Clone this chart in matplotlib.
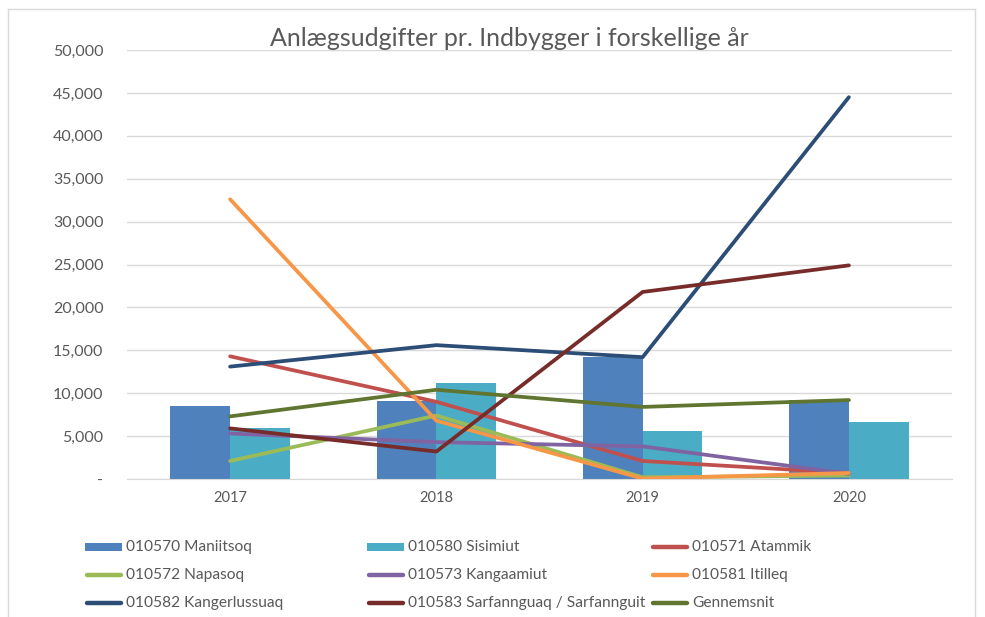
import matplotlib
matplotlib.use("Agg")
import matplotlib.pyplot as plt
from matplotlib.lines import Line2D
from matplotlib.patches import Rectangle
import numpy as np

years = ["2017", "2018", "2019", "2020"]

maniitsoq = [8500, 9100, 14200, 9200]
sisimiut = [5900, 11200, 5600, 6600]

atammik = [14300, 9000, 2100, 700]
napasoq = [2100, 7400, 200, 400]
kangaamiut = [5300, 4300, 3800, 600]
itilleq = [32600, 6800, 50, 700]
kangerlussuaq = [13100, 15600, 14200, 44500]
sarfannguaq = [5900, 3200, 21800, 24900]
gennemsnit = [7300, 10400, 8400, 9200]

title = "Anlægsudgifter pr. Indbygger i forskellige år"
yticks = [0, 5000, 10000, 15000, 20000, 25000, 30000, 35000, 40000, 45000, 50000]

bar_series = [("010570 Maniitsoq", maniitsoq, "#4F81BD"),
              ("010580 Sisimiut", sisimiut, "#4BACC6")]
line_series = [("010571 Atammik", atammik, "#C0504D"),
               ("010572 Napasoq", napasoq, "#9BBB59"),
               ("010573 Kangaamiut", kangaamiut, "#8064A2"),
               ("010581 Itilleq", itilleq, "#F79646"),
               ("010582 Kangerlussuaq", kangerlussuaq, "#2C4D75"),
               ("010583 Sarfannguaq / Sarfannguit", sarfannguaq, "#772C2A"),
               ("Gennemsnit", gennemsnit, "#5F7530")]

plt.rcParams['font.family'] = ['Lato', 'DejaVu Sans']
W, H = 985, 617
fig = plt.figure(figsize=(W/100, H/100), dpi=100)
fig.patch.set_facecolor("white")

def fx(px):
    return px / W

def fy(py):
    return 1 - py / H

# outer frame
frame_c = "#D9D9D9"
fig.add_artist(Line2D([fx(8), fx(8)], [0, fy(9)], transform=fig.transFigure, color=frame_c, lw=1))
fig.add_artist(Line2D([fx(8), fx(975)], [fy(9), fy(9)], transform=fig.transFigure, color=frame_c, lw=1))
fig.add_artist(Line2D([fx(975), fx(975)], [0, fy(9)], transform=fig.transFigure, color=frame_c, lw=1))

ax = fig.add_axes([fx(127), fy(479), fx(952 - 127), (479 - 50) / H])
x = np.arange(len(years))
w = 0.29
ax.bar(x - w/2, maniitsoq, width=w, color=bar_series[0][2], zorder=2)
ax.bar(x + w/2, sisimiut, width=w, color=bar_series[1][2], zorder=2)

for name, vals, c in line_series:
    ax.plot(x, vals, color=c, lw=2.7, solid_capstyle="round", zorder=3)

ax.set_xlim(-0.5, 3.5)
ax.set_ylim(0, 50000)
ax.set_yticks(yticks)
ax.set_yticklabels(["-"] + [f"{v:,}" for v in yticks[1:]])
ax.set_xticks(x)
ax.set_xticklabels(years)
ax.tick_params(axis="both", length=0, colors="#595959")
ax.tick_params(axis="y", pad=17, labelsize=11.5)
ax.tick_params(axis="x", pad=9, labelsize=10.5)
ax.grid(axis="y", color=frame_c, lw=1, zorder=0)
ax.set_axisbelow(True)
for s in ["top", "right", "left"]:
    ax.spines[s].set_visible(False)
ax.spines["bottom"].set_color(frame_c)

fig.text(fx(509), fy(38), title, ha="center", va="center", fontsize=18, color="#595959")

# legend laid out in rows (row-major, 3 columns)
entries = [(n, c, "bar") for n, v, c in bar_series] + [(n, c, "line") for n, v, c in line_series]
col_x = [85, 367, 651]
row_y = [547, 575, 603]
for i, (name, c, kind) in enumerate(entries):
    r, k = divmod(i, 3)
    x0, y0 = col_x[k], row_y[r]
    if kind == "bar":
        fig.add_artist(Rectangle((fx(x0), fy(y0 + 4)), fx(37), 8 / H, transform=fig.transFigure,
                                 facecolor=c, edgecolor="none"))
    else:
        fig.add_artist(Line2D([fx(x0 + 2), fx(x0 + 36)], [fy(y0), fy(y0)], transform=fig.transFigure,
                              color=c, lw=3.2, solid_capstyle="round"))
    fig.text(fx(x0 + 41), fy(y0), name, ha="left", va="center", fontsize=11.2, color="#595959")

fig.savefig("out.png", dpi=100, facecolor="white")
